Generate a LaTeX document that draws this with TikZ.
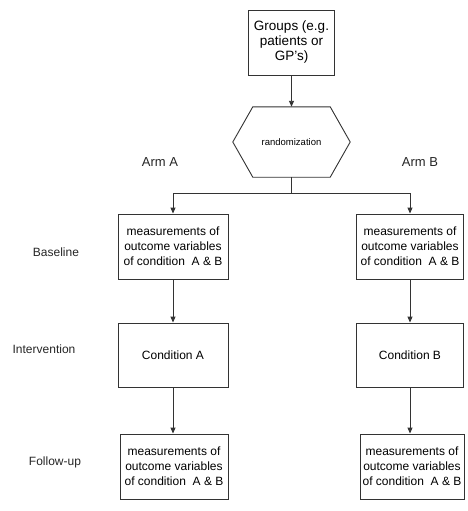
\documentclass[tikz,border=0pt]{standalone}
\usepackage{fontspec}
\setmainfont{Liberation Sans}
\usetikzlibrary{arrows.meta}
\begin{document}
\begin{tikzpicture}[x=1pt,y=-1pt,
  line/.style={draw=black!80, line width=0.9pt},
  arr/.style={line, -{Triangle[length=6pt,width=5pt]}},
  box/.style={draw=black!80, line width=0.9pt, rectangle, inner sep=0pt, align=center,
    font=\fontsize{12}{15}\selectfont},
  lab/.style={font=\fontsize{12}{14}\selectfont, text=black!85}]
\useasboundingbox (0,0) rectangle (467,511);
\fill[white] (0,0) rectangle (467,511);
% nodes
\node[box, minimum width=86pt, minimum height=65pt, font=\fontsize{13.5}{15}\selectfont] (grp) at (291.5,42.5) {Groups (e.g.\\patients or\\GP's)};
\node[inner sep=0pt, minimum width=117pt, minimum height=70pt, font=\fontsize{9.5}{11}\selectfont] (rand) at (291.5,142) {randomization};
\draw[line] ([xshift=20pt]rand.north west) -- ([xshift=-20pt]rand.north east) -- (rand.east)
  -- ([xshift=-20pt]rand.south east) -- ([xshift=20pt]rand.south west) -- (rand.west) -- cycle;
\coordinate (j) at (291.5,193);
\node[box, minimum width=110pt, minimum height=65pt] (bA) at (173,246.5) {measurements of\\outcome variables\\of condition~ A \& B};
\node[box, minimum width=107pt, minimum height=65pt] (bB) at (410,246.5) {measurements of\\outcome variables\\of condition~ A \& B};
\node[box, minimum width=110pt, minimum height=64pt] (cA) at (173,355) {Condition A};
\node[box, minimum width=107pt, minimum height=64pt] (cB) at (410,355) {Condition B};
\node[box, minimum width=108pt, minimum height=65pt] (fA) at (174,466.5) {measurements of\\outcome variables\\of condition~ A \& B};
\node[box, minimum width=104pt, minimum height=65pt] (fB) at (412,466.5) {measurements of\\outcome variables\\of condition~ A \& B};
% labels
\node[lab, font=\fontsize{13}{15}\selectfont] (armA) at (160,162) {Arm A};
\node[lab, font=\fontsize{13}{15}\selectfont] (armB) at (420,162) {Arm B};
\node[lab] (lb) at (56,252) {Baseline};
\node[lab] (li) at (44,349) {Intervention};
\node[lab] (lf) at (55,462) {Follow-up};
% connectors
\draw[arr] (grp.south) -- (rand.north);
\draw[line] (rand.south) -- (j);
\draw[arr] (j) -| (bA.north);
\draw[arr] (j) -| (bB.north);
\draw[arr] (bA.south) -- (cA.north);
\draw[arr] (bB.south) -- (cB.north);
\draw[arr] (cA.south) -- (cA.south |- fA.north);
\draw[arr] (cB.south) -- (cB.south |- fB.north);
\end{tikzpicture}
\end{document}
